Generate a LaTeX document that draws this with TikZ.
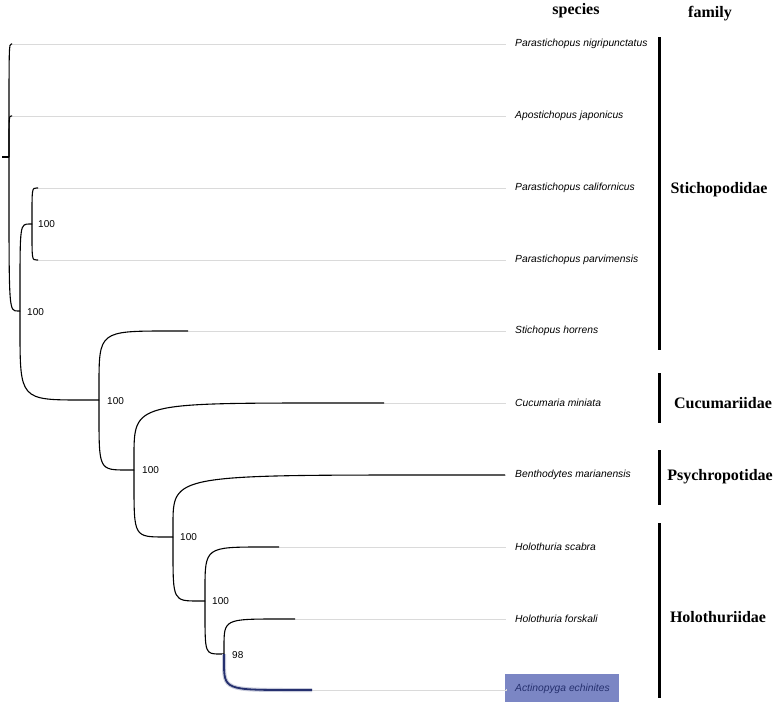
\documentclass[tikz,border=0pt]{standalone}
\usepackage{fontspec}
\setmainfont{Liberation Serif}
\setsansfont{Liberation Sans}
\usetikzlibrary{calc}
\definecolor{navy}{HTML}{25306E}
\definecolor{hlbox}{HTML}{7B86C4}
\definecolor{guide}{HTML}{DADADA}
\tikzset{
  br/.style={line width=1.1pt, black},
  guideline/.style={line width=0.6pt, guide},
  sp/.style={anchor=west, inner sep=0pt, font=\sffamily\itshape\fontsize{10.3}{12}\selectfont},
  bs/.style={anchor=west, inner sep=0pt, font=\sffamily\fontsize{10}{12}\selectfont},
  fam/.style={anchor=center, inner sep=0pt, font=\bfseries\fontsize{16}{18}\selectfont},
  famhead/.style={anchor=center, inner sep=0pt, font=\bfseries\fontsize{16}{18}\selectfont},
  bar/.style={line width=3pt, black},
}
\newcommand\branch[3][]{\draw[br,#1] let \p1=(#2), \p2=(#3) in
  (\p1) -- (\x1,{\y1+(\y2-\y1)*0.2}) .. controls (\x1,\y2) .. ({\x1+(\x2-\x1)*0.8},\y2) -- (\p2);}
\begin{document}
\begin{tikzpicture}[x=1pt,y=-1pt]
\useasboundingbox (0,0) rectangle (777,704);
% internal nodes
\coordinate (T) at (2,157);
\coordinate (R) at (9,157);
\coordinate (A) at (20,311);
\coordinate (P) at (32,224);
\coordinate (B) at (99,400);
\coordinate (C) at (134,470);
\coordinate (D) at (173,537);
\coordinate (E) at (205,601);
\coordinate (F) at (224,654);
% leaf ends
\coordinate (l1) at (12,44);
\coordinate (l2) at (12,116);
\coordinate (l3) at (38,188);
\coordinate (l4) at (38,260);
\coordinate (l5) at (188,331);
\coordinate (l6) at (384,403);
\coordinate (l7) at (505,475);
\coordinate (l8) at (279,547);
\coordinate (l9) at (295,619);
\coordinate (l10) at (312,690);
% highlight box
\node[fill=hlbox, inner sep=0pt, minimum width=114pt, minimum height=28pt, anchor=north west] (hl) at (505,674) {};
% species labels
\node[sp] (s1) at (515,44) {Parastichopus nigripunctatus};
\node[sp] (s2) at (515,116) {Apostichopus japonicus};
\node[sp] (s3) at (515,188) {Parastichopus californicus};
\node[sp] (s4) at (515,260) {Parastichopus parvimensis};
\node[sp] (s5) at (515,331) {Stichopus horrens};
\node[sp] (s6) at (515,403) {Cucumaria miniata};
\node[sp] (s7) at (515,475) {Benthodytes marianensis};
\node[sp] (s8) at (515,547) {Holothuria scabra};
\node[sp] (s9) at (515,619) {Holothuria forskali};
\node[sp, text=navy] (s10) at (515,689) {Actinopyga echinites};
% guide lines
\foreach \i in {1,...,10} { \draw[guideline] (l\i) -- ++(0,0) -| ($(s\i.west)+(-9,0)$); }
% tree
\draw[br] (T) -- (R);
\branch{R}{l1}
\branch{R}{l2}
\branch{R}{A}
\branch{A}{P}
\branch{P}{l3}
\branch{P}{l4}
\branch{A}{B}
\branch{B}{l5}
\branch{B}{C}
\branch{C}{l6}
\branch{C}{D}
\branch{D}{l7}
\branch{D}{E}
\branch{E}{l8}
\branch{E}{F}
\branch{F}{l9}
\branch[navy!25, line width=4pt]{F}{l10}
\branch[navy, line width=1.8pt]{F}{l10}
% bootstrap labels
\node[bs] (bA) at ($(A)+(7,1)$) {100};
\node[bs] (bP) at ($(P)+(6,0)$) {100};
\node[bs] (bB) at ($(B)+(8,1)$) {100};
\node[bs] (bC) at ($(C)+(8,0)$) {100};
\node[bs] (bD) at ($(D)+(7,0)$) {100};
\node[bs] (bE) at ($(E)+(7,0)$) {100};
\node[bs] (bF) at ($(F)+(8,1)$) {98};
% headers
\node[famhead] (hs) at (576,11) {species};
\node[famhead] (hf) at (710,14) {family};
% family bars and names
\coordinate (b1t) at (659,37); \coordinate (b1b) at (659,350);
\coordinate (b2t) at (659,373); \coordinate (b2b) at (659,423);
\coordinate (b3t) at (659,450); \coordinate (b3b) at (659,505);
\coordinate (b4t) at (659,523); \coordinate (b4b) at (659,698);
\draw[bar] (b1t) -- (b1b);
\draw[bar] (b2t) -- (b2b);
\draw[bar] (b3t) -- (b3b);
\draw[bar] (b4t) -- (b4b);
\node[fam] (f1) at (719,190) {Stichopodidae};
\node[fam] (f2) at (723,403) {Cucumariidae};
\node[fam] (f3) at (720,477) {Psychropotidae};
\node[fam] (f4) at (718,617) {Holothuriidae};
\end{tikzpicture}
\end{document}
